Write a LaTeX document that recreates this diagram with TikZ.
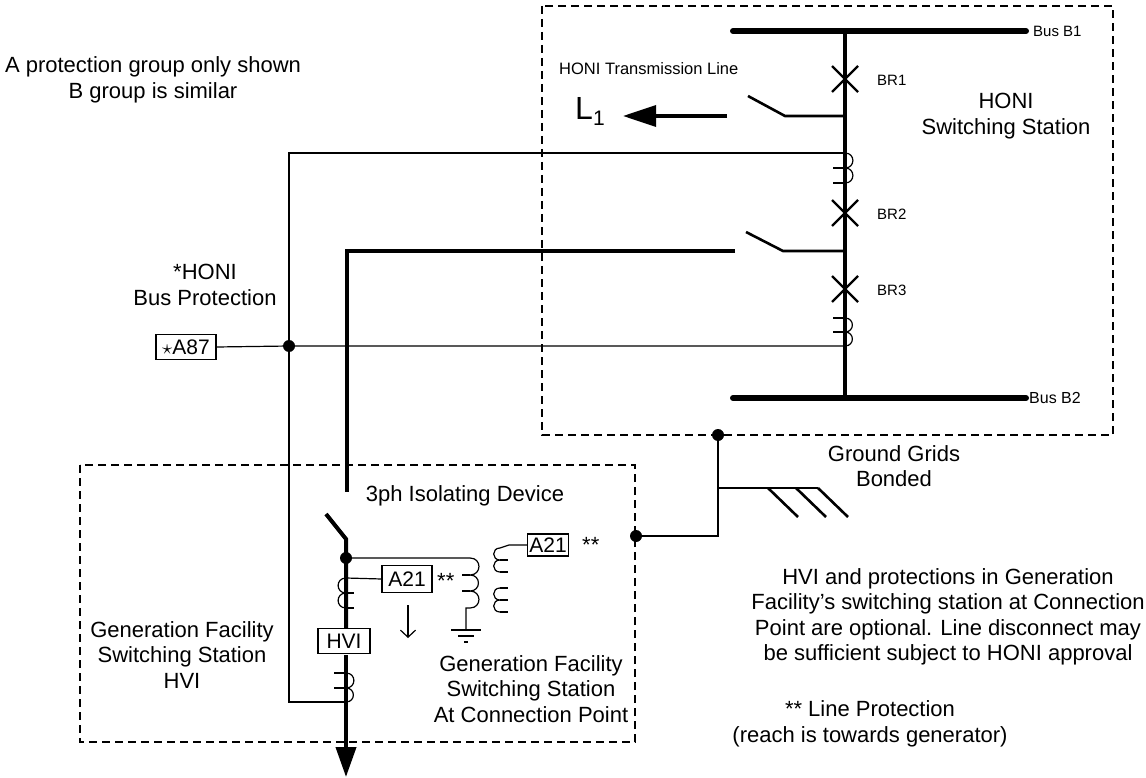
\documentclass[tikz,border=0pt]{standalone}
\usepackage{fontspec}
\setmainfont{Liberation Sans}
\usetikzlibrary{arrows.meta}
\begin{document}
\begin{tikzpicture}[x=1pt,y=-1pt,
  txt/.style={align=center,font=\fontsize{22}{25.5}\selectfont,inner sep=0pt},
  small/.style={font=\fontsize{15}{17}\selectfont,inner sep=0pt},
  relay/.style={draw,line width=1.1pt,fill=white,inner sep=1pt,font=\fontsize{21}{22}\selectfont},
  heavy/.style={line width=4pt},
  busbar/.style={line width=6pt,line cap=round},
  wire/.style={line width=1.2pt},
  mid/.style={line width=2.6pt},
  frame/.style={line width=1.1pt,dash pattern=on 8pt off 5pt},
  bump/.style={out=0,in=0,looseness=1.8},
  bumpL/.style={out=180,in=180,looseness=1.8},
  dot/.style={circle,fill,inner sep=0pt,minimum size=12pt},
  brk/.style={line width=2.4pt}]
\useasboundingbox (0,0) rectangle (1146,778);

% frames
\draw[frame] (542,6) rectangle (1113,435);
\draw[frame] (80,465) rectangle (635,742);

% HONI station
\coordinate (b1l) at (733,31); \coordinate (b1r) at (1026,31);
\coordinate (b2l) at (733,398); \coordinate (b2r) at (1026,398);
\coordinate (mt) at (845,31); \coordinate (mb) at (845,398);
\draw[busbar] (b1l) -- (b1r);
\draw[busbar] (b2l) -- (b2r);
\draw[heavy] (mt) -- (mb);
\node[small,anchor=west] (lb1) at (1033,31) {Bus B1};
\node[small,anchor=west,font=\fontsize{16}{18}\selectfont] (lb2) at (1029,398) {Bus B2};
\foreach \y/\n in {79/1,213/2,289/3}{
  \draw[brk] (832,\y-13) -- (858,\y+13) (832,\y+13) -- (858,\y-13);
  \node[small,anchor=west] at (877,\y+1) {BR\n};
}
\node[txt] (honi) at (1006,116) {HONI\\Switching Station};
\node[anchor=west,inner sep=0pt,font=\fontsize{16.5}{18}\selectfont] (htl) at (559,69) {HONI Transmission Line};

% L1 line and switch
\coordinate (s1a) at (845,116); \coordinate (s1b) at (785,116); \coordinate (s1c) at (748,96);
\draw[mid] (s1a) -- (s1b) -- (s1c);
\coordinate (l1s) at (727,116); \coordinate (l1e) at (623,116);
\draw[line width=3.5pt,-{Triangle[length=33pt,width=21pt]}] (l1s) -- (l1e);
\node[inner sep=0pt,anchor=base west] (L1) at (575,120) {\fontsize{32}{34}\selectfont L\raisebox{-6pt}{\fontsize{21}{22}\selectfont 1}};

% top CT
\draw[wire] (845,153) to[bump] (845,168) to[bump] (845,183);
\draw[wire] (833,168) -- (845,168) (833,183) -- (845,183);

% BR3 CT
\draw[wire] (845,318) to[bump] (845,332) to[bump] (845,346);
\draw[wire] (833,318) -- (845,318) (833,332) -- (845,332);

% feeder to generation facility
\coordinate (s2a) at (845,251); \coordinate (s2b) at (783,251); \coordinate (s2c) at (746,232);
\draw[mid] (s2a) -- (s2b) -- (s2c);
\coordinate (f1) at (735,251); \coordinate (f2) at (347,251); \coordinate (f3) at (347,492);
\draw[heavy] (f1) -- (f2) -- (f3);

% protection wiring
\coordinate (w1) at (289,153); \coordinate (w2) at (845,153);
\coordinate (w3) at (289,702); \coordinate (w4) at (346,702);
\draw[wire] (w2) -- (w1) -- (w3) -- (w4);
\node[relay,minimum width=60pt,minimum height=25pt,inner sep=0pt] (a87) at (186,347) {$\star$A87};
\node[dot] (d87) at (289,346) {};
\coordinate (c87) at (845,346);
\draw[wire] (a87.east) -- (d87) -- (c87);
\node[txt] (hbp) at (205,285) {*HONI\\Bus Protection};
\node[txt] (note1) at (153,80) {A protection group only shown\\B group is similar};

% generation facility switch and main line
\coordinate (g1) at (326,514); \coordinate (g2) at (346,539); \coordinate (g3) at (346,777);
\draw[heavy] (g1) -- (g2) -- (346,628);
\draw[heavy,-{Triangle[length=30pt,width=20pt]}] (346,655) -- (g3);
\node[dot] (dg) at (346,558) {};
\node[txt] (iso) at (465,496) {3ph Isolating Device};

% left CT and relay
\node[relay,minimum width=50pt,minimum height=27pt] (a21a) at (407,579) {A21};
\node[txt,anchor=west] (st1) at (437,581) {**};
\draw[wire] (a21a.west) -- (346,578) to[bumpL] (346,593) to[bumpL] (346,608);
\draw[wire] (346,593) -- (354,593) (346,608) -- (354,608);
\draw[wire,-{Straight Barb[length=7pt,width=15pt]}] (408,605) -- (408,638);

% HVI
\node[relay,minimum width=52pt,minimum height=25pt] (hvi) at (344,641) {HVI};

% bottom CT
\draw[wire] (346,673) to[bump] (346,688) to[bump] (346,702);
\draw[wire] (334,673) -- (346,673) (334,688) -- (346,688);

% voltage transformer
\coordinate (p0) at (470,558);
\draw[wire] (dg) -- (p0) to[bump] (470,575) to[bump] (470,591) to[bump] (470,608) -- (466,608) -- (466,630);
\draw[wire] (462,575) -- (470,575) (462,591) -- (470,591);
\draw[wire] (451,630) -- (481,630) (458,636) -- (474,636) (464,642) -- (468,642);
% secondaries
\node[relay,minimum width=41pt,minimum height=22pt,inner sep=0pt] (a21b) at (548,545) {A21};
\node[txt,anchor=west] (st2) at (582,545) {**};
\draw[wire] (a21b.west) -- (509,545) -- (500,548) to[bumpL] (500,560) to[bumpL] (500,572);
\draw[wire] (500,560) -- (508,560) (500,572) -- (508,572);
\draw[wire] (500,588) to[bumpL] (500,600) to[bumpL] (500,612);
\draw[wire] (500,588) -- (508,588) (500,600) -- (508,600) (500,612) -- (508,612);

% ground grid bonding
\node[dot] (dgr1) at (636,536) {};
\node[dot] (dgr2) at (718,435) {};
\coordinate (gb) at (718,536); \coordinate (gg) at (718,488); \coordinate (ge) at (818,488);
\draw[mid] (dgr1) -- (gb) -- (dgr2);
\draw[mid] (gg) -- (ge);
\draw[mid] (768,488) -- (798,517) (796,488) -- (826,517) (818,488) -- (848,517);
\node[txt] (ggb) at (894,466) {Ground Grids\\Bonded};

% texts
\node[txt] (gfhvi) at (182,655) {Generation Facility\\Switching Station\\HVI};
\node[txt] (gfcp) at (531,689) {Generation Facility\\Switching Station\\At Connection Point};
\node[txt] (opt) at (948,617) {HVI and protections in Generation\\Facility's switching station at Connection\\Point are optional. Line disconnect may\\be sufficient subject to HONI approval};
\node[txt] (lp) at (870,724) {** Line Protection\\(reach is towards generator)};
\end{tikzpicture}
\end{document}
